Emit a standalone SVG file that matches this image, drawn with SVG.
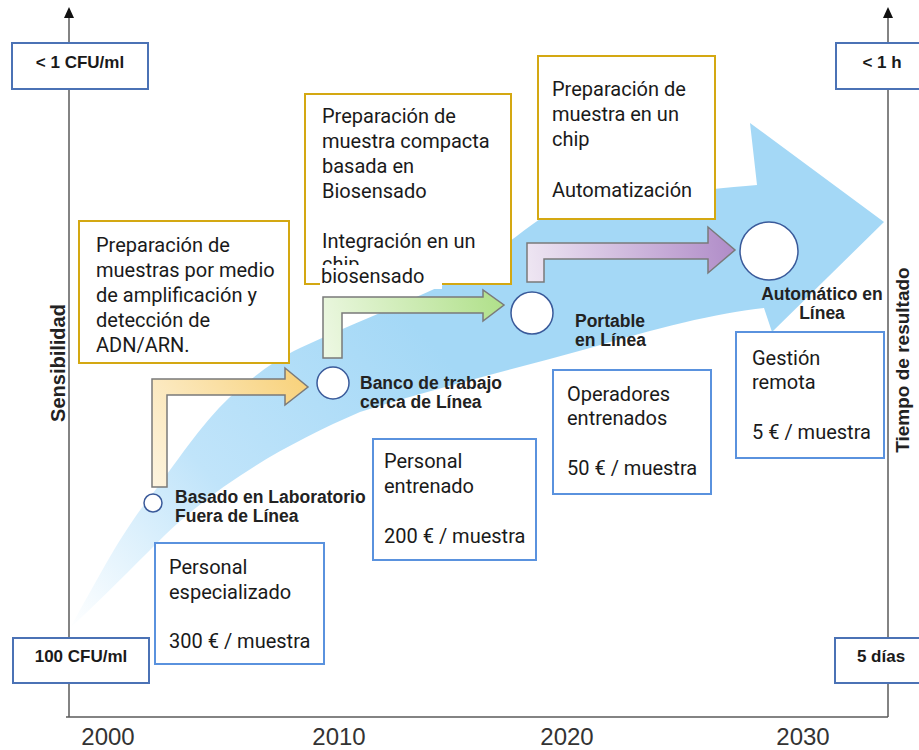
<svg xmlns="http://www.w3.org/2000/svg" width="919" height="750" viewBox="0 0 919 750">
<style>
.ax{stroke:#5a5a5a;stroke-width:1.5;fill:none}
.axbox{fill:#fff;stroke:#4b72b5;stroke-width:2}
.axt{font-family:"Liberation Sans",Arial,sans-serif;font-weight:bold;font-size:17px;fill:#1a1a1a;text-anchor:middle}
.yr{font-family:"Liberation Sans",Arial,sans-serif;font-size:24px;fill:#333;text-anchor:middle}
.axl{font-family:"Liberation Sans",Arial,sans-serif;font-weight:bold;fill:#222;text-anchor:middle}
.lab{font-family:"Liberation Sans",Arial,sans-serif;font-weight:bold;font-size:17.5px;fill:#222}
.gold{fill:#fff;stroke:#d4a812;stroke-width:2}
.blue{fill:#fff;stroke:#5a92de;stroke-width:2}
.bt{font-family:Roboto,"Noto Sans",sans-serif;font-size:20px;fill:#1a1a1a}
.circ{fill:#fff;stroke:#3a5a9a;stroke-width:1.5}
.larr{stroke:#7a7a7a;stroke-width:1.5}
</style>
<defs>
<linearGradient id="gBand" gradientUnits="userSpaceOnUse" x1="80" y1="640" x2="420" y2="330">
<stop offset="0" stop-color="#ffffff"/>
<stop offset="0.45" stop-color="#c0e4fa"/>
<stop offset="1" stop-color="#a4d8f6"/>
</linearGradient>
<linearGradient id="gY" gradientUnits="userSpaceOnUse" x1="152" y1="487" x2="308" y2="387">
<stop offset="0" stop-color="#fdf4e0"/>
<stop offset="1" stop-color="#f8d27c"/>
</linearGradient>
<linearGradient id="gG" gradientUnits="userSpaceOnUse" x1="323" y1="358" x2="504" y2="305">
<stop offset="0" stop-color="#eef8e4"/>
<stop offset="1" stop-color="#b0e08a"/>
</linearGradient>
<linearGradient id="gP" gradientUnits="userSpaceOnUse" x1="527" y1="282" x2="735" y2="250">
<stop offset="0" stop-color="#efe7f3"/>
<stop offset="1" stop-color="#b08cc8"/>
</linearGradient>
</defs>

<g id="axes">
<line class="ax" x1="69" y1="15" x2="69" y2="717"/>
<line class="ax" x1="888" y1="15" x2="888" y2="717"/>
<line class="ax" x1="66" y1="717" x2="888" y2="717"/>
<polygon points="69,7 64,18 74,18" fill="#111"/>
<polygon points="888,7 883,18 893,18" fill="#111"/>
<text class="axl" font-size="20" transform="translate(65,363) rotate(-90)">Sensibilidad</text>
<text class="axl" font-size="19" transform="translate(909,360) rotate(-90)">Tiempo de resultado</text>
<text class="yr" x="108" y="745">2000</text>
<text class="yr" x="339" y="745">2010</text>
<text class="yr" x="567" y="745">2020</text>
<text class="yr" x="803" y="745">2030</text>
</g>

<g id="band">
<path fill="url(#gBand)" d="M70,628 C100,575 120,535 150,497 C175,465 200,425 230,397 C255,375 275,360 300,348 C350,325 400,305 443,285 C475,270 510,240 540,219 C600,200 700,190 757,185 L750,123 L884,222 L772,332 L764,308 C720,312 650,330 590,348 C510,370 430,390 360,412 C290,442 220,482 165,535 C120,580 90,610 70,628 Z"/>
</g>

<g id="connectors">
<polygon class="larr" fill="url(#gY)" points="152,487 152,379 285,379 285,368 308,387 285,405 285,395 167,395 167,487"/>
<polygon class="larr" fill="url(#gG)" points="323,358 323,297 483,297 483,290 504,305 483,321 483,313 342,313 342,358"/>
<polygon class="larr" fill="url(#gP)" points="527,282 527,243 708,243 708,227 735,250 708,273 708,259 544,259 544,282"/>
</g>

<g id="n-lab">
<circle class="circ" cx="153" cy="503" r="9"/>
<text class="lab" x="175" y="503">Basado en Laboratorio</text>
<text class="lab" x="175" y="522">Fuera de Línea</text>
</g>
<g id="n-banco">
<circle class="circ" cx="333" cy="383" r="16"/>
<text class="lab" x="360" y="389">Banco de trabajo</text>
<text class="lab" x="360" y="408">cerca de Línea</text>
</g>
<g id="n-portable">
<circle class="circ" cx="532" cy="313" r="21"/>
<text class="lab" x="575" y="327">Portable</text>
<text class="lab" x="575" y="346">en Línea</text>
</g>
<g id="n-auto">
<circle class="circ" cx="769" cy="251" r="29"/>
<text class="lab" x="822" y="300" text-anchor="middle">Automático en</text>
<text class="lab" x="822" y="319" text-anchor="middle">Línea</text>
</g>

<g id="box-amplificacion">
<rect class="gold" x="79" y="221" width="210" height="142"/>
<text class="bt" x="96" y="252">Preparación de</text>
<text class="bt" x="96" y="277">muestras por medio</text>
<text class="bt" x="96" y="302">de amplificación y</text>
<text class="bt" x="96" y="327">detección de</text>
<text class="bt" x="96" y="352">ADN/ARN.</text>
</g>
<g id="box-biosensado">
<rect class="gold" x="305" y="94" width="206" height="190"/>
<text class="bt" x="322" y="123">Preparación de</text>
<text class="bt" x="322" y="148">muestra compacta</text>
<text class="bt" x="322" y="173">basada en</text>
<text class="bt" x="322" y="198">Biosensado</text>
<text class="bt" x="322" y="248">Integración en un</text>
<text class="bt" x="322" y="271">chip</text>
<rect x="320" y="265" width="122" height="24" fill="#fff"/>
<text class="bt" x="321" y="283">biosensado</text>
</g>
<g id="box-chip">
<rect class="gold" x="538" y="56" width="177" height="163"/>
<text class="bt" x="552" y="96">Preparación de</text>
<text class="bt" x="552" y="121">muestra en un</text>
<text class="bt" x="552" y="146">chip</text>
<text class="bt" x="552" y="197">Automatización</text>
</g>

<g id="box-especializado">
<rect class="blue" x="155" y="543" width="169" height="121"/>
<text class="bt" x="169" y="574">Personal</text>
<text class="bt" x="169" y="599">especializado</text>
<text class="bt" x="169" y="648">300 € / muestra</text>
</g>
<g id="box-entrenado">
<rect class="blue" x="373" y="439" width="163" height="121"/>
<text class="bt" x="384" y="468">Personal</text>
<text class="bt" x="384" y="493">entrenado</text>
<text class="bt" x="384" y="543">200 € / muestra</text>
</g>
<g id="box-operadores">
<rect class="blue" x="553" y="370" width="158" height="124"/>
<text class="bt" x="567" y="401">Operadores</text>
<text class="bt" x="567" y="425">entrenados</text>
<text class="bt" x="567" y="475">50 € / muestra</text>
</g>
<g id="box-remota">
<rect class="blue" x="736" y="332" width="148" height="126"/>
<text class="bt" x="752" y="365">Gestión</text>
<text class="bt" x="752" y="389">remota</text>
<text class="bt" x="752" y="439">5 € / muestra</text>
</g>

<g id="ax-top-left">
<rect class="axbox" x="12" y="43" width="136" height="46"/>
<text class="axt" x="80" y="68">&lt; 1 CFU/ml</text>
</g>
<g id="ax-bottom-left">
<rect class="axbox" x="13" y="638" width="136" height="45"/>
<text class="axt" x="81" y="662">100 CFU/ml</text>
</g>
<g id="ax-top-right">
<rect class="axbox" x="836" y="43" width="90" height="46"/>
<text class="axt" x="882" y="68">&lt; 1 h</text>
</g>
<g id="ax-bottom-right">
<rect class="axbox" x="835" y="638" width="90" height="45"/>
<text class="axt" x="881" y="662">5 días</text>
</g>
</svg>
